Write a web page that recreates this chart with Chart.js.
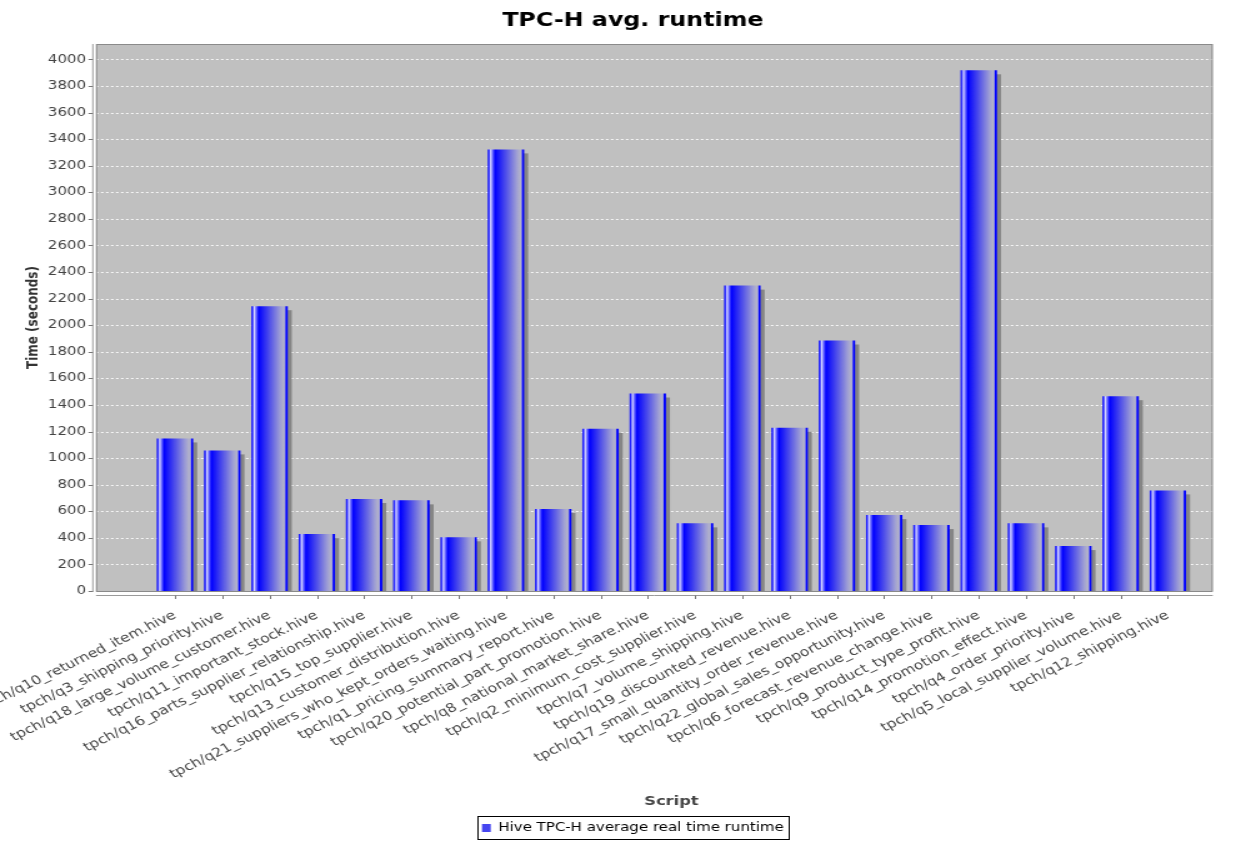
<!DOCTYPE html>
<html>
<head>
<meta charset="utf-8">
<title>TPC-H avg. runtime</title>
<script src="https://cdn.jsdelivr.net/npm/chart.js@4.4.1/dist/chart.umd.min.js"></script>
<style>
  html, body { margin: 0; padding: 0; background: #fff; }
  #chart { display: block; }
</style>
</head>
<body>
<canvas id="chart"></canvas>
<script>
// query scripts, in plotted order
const scripts = [
  'tpch/q10_returned_item.hive',
  'tpch/q3_shipping_priority.hive',
  'tpch/q18_large_volume_customer.hive',
  'tpch/q11_important_stock.hive',
  'tpch/q16_parts_supplier_relationship.hive',
  'tpch/q15_top_supplier.hive',
  'tpch/q13_customer_distribution.hive',
  'tpch/q21_suppliers_who_kept_orders_waiting.hive',
  'tpch/q1_pricing_summary_report.hive',
  'tpch/q20_potential_part_promotion.hive',
  'tpch/q8_national_market_share.hive',
  'tpch/q2_minimum_cost_supplier.hive',
  'tpch/q7_volume_shipping.hive',
  'tpch/q19_discounted_revenue.hive',
  'tpch/q17_small_quantity_order_revenue.hive',
  'tpch/q22_global_sales_opportunity.hive',
  'tpch/q6_forecast_revenue_change.hive',
  'tpch/q9_product_type_profit.hive',
  'tpch/q14_promotion_effect.hive',
  'tpch/q4_order_priority.hive',
  'tpch/q5_local_supplier_volume.hive',
  'tpch/q12_shipping.hive'
];

// average real time runtime, seconds
const runtimes = [1148, 1058, 2143, 428, 692, 682, 404, 3323, 617, 1220, 1486,
                  509, 2298, 1228, 1885, 571, 496, 3918, 509, 338, 1466, 757];

const seriesName = 'Hive TPC-H average real time runtime';
const timeTicks = [0, 200, 400, 600, 800, 1000, 1200, 1400, 1600, 1800, 2000,
                   2200, 2400, 2600, 2800, 3000, 3200, 3400, 3600, 3800, 4000];
const timeMax = 4116;

// the original picture is stretched sideways, so draw narrow and let css widen it
const STRETCH = 1.25;
const canvas = document.getElementById('chart');
canvas.width = Math.round(1241 / STRETCH);
canvas.height = 841;
canvas.style.width = '1241px';
canvas.style.height = '841px';

const FONT = 'DejaVu Sans';
const BAR_PCT = 0.77;
const PAD = { left: 59.4, right: 39.6, top: 0, bottom: -3 };

// gradient bar like the java bar painter
function barFill(context) {
  const chart = context.chart;
  const xs = chart.scales.x;
  if (!xs || context.dataIndex === undefined || !xs.width) return '#0000ff';
  const w = xs.width / scripts.length * BAR_PCT;
  const cx = xs.getPixelForValue(context.dataIndex);
  const g = chart.ctx.createLinearGradient(cx - w / 2, 0, cx + w / 2, 0);
  g.addColorStop(0.00, '#0000ff');
  g.addColorStop(0.04, '#3a3aff');
  g.addColorStop(0.08, '#dcdcff');
  g.addColorStop(0.12, '#8080ff');
  g.addColorStop(0.20, '#0000ff');
  g.addColorStop(0.80, '#a0a0d4');
  g.addColorStop(0.90, '#b4b4c8');
  g.addColorStop(0.93, '#9090e0');
  g.addColorStop(0.95, '#0000ff');
  g.addColorStop(1.00, '#0000ff');
  return g;
}

// grey plot, dashed grid, axis lines, bar shadows, legend frame
const plotFrame = {
  id: 'plotFrame',
  beforeDraw(chart) {
    const { ctx, chartArea: ca, scales: { x, y } } = chart;
    const left = ca.left - 44.3, right = ca.right + 17;
    ctx.save();
    ctx.fillStyle = '#c0c0c0';
    ctx.fillRect(left, ca.top, right - left, ca.bottom - ca.top);

    ctx.strokeStyle = 'rgba(255,255,255,0.9)';
    ctx.lineWidth = 1;
    ctx.setLineDash([2, 2]);
    y.ticks.forEach(t => {
      if (t.value === 0) return;
      const py = Math.round(y.getPixelForValue(t.value)) + 0.5;
      ctx.beginPath();
      ctx.moveTo(left, py);
      ctx.lineTo(right, py);
      ctx.stroke();
    });
    ctx.setLineDash([]);

    ctx.strokeStyle = '#8a8a8a';
    ctx.strokeRect(left + 0.5, ca.top + 0.5, right - left - 1, ca.bottom - ca.top);

    // value axis
    ctx.strokeStyle = '#9a9a9a';
    ctx.beginPath();
    ctx.moveTo(left - 2.5, ca.top);
    ctx.lineTo(left - 2.5, ca.bottom + 1);
    ctx.stroke();
    ctx.strokeStyle = '#777';
    y.ticks.forEach(t => {
      const py = Math.round(y.getPixelForValue(t.value)) + 0.5;
      ctx.beginPath();
      ctx.moveTo(left - 6, py);
      ctx.lineTo(left - 2.5, py);
      ctx.stroke();
    });

    // category axis
    ctx.strokeStyle = '#9a9a9a';
    ctx.beginPath();
    ctx.moveTo(left, ca.bottom + 4.5);
    ctx.lineTo(right, ca.bottom + 4.5);
    ctx.stroke();
    ctx.strokeStyle = '#777';
    scripts.forEach((s, i) => {
      const px = Math.round(x.getPixelForValue(i)) + 0.5;
      ctx.beginPath();
      ctx.moveTo(px, ca.bottom + 4.5);
      ctx.lineTo(px, ca.bottom + 8);
      ctx.stroke();
    });
    ctx.restore();
  },
  beforeDatasetsDraw(chart) {
    const { ctx, chartArea: ca } = chart;
    ctx.save();
    ctx.fillStyle = '#858585';
    chart.getDatasetMeta(0).data.forEach(bar => {
      const top = bar.y + 4;
      if (bar.base - top <= 0) return;
      ctx.fillRect(bar.x - bar.width / 2 + 3.2, top, bar.width, Math.min(bar.base, ca.bottom) - top);
    });
    ctx.restore();
  },
  afterDraw(chart) {
    const box = chart.legend && chart.legend.legendHitBoxes[0];
    if (!box) return;
    const ctx = chart.ctx;
    ctx.save();
    ctx.strokeStyle = '#000';
    ctx.lineWidth = 1;
    ctx.strokeRect(Math.round(box.left - 3.5) + 0.5, Math.round(box.top - 6) + 0.5,
                   Math.round(box.width + 7.5), Math.round(box.height + 11));
    ctx.restore();
  }
};

new Chart(canvas, {
  type: 'bar',
  data: {
    labels: scripts,
    datasets: [{
      label: seriesName,
      data: runtimes,
      backgroundColor: barFill,
      borderWidth: 0,
      barPercentage: BAR_PCT,
      categoryPercentage: 1
    }]
  },
  options: {
    responsive: false,
    animation: false,
    devicePixelRatio: 1,
    layout: { padding: PAD },
    plugins: {
      title: {
        display: true,
        text: 'TPC-H avg. runtime',
        color: '#000',
        font: { family: FONT, size: 19, weight: 'bold' },
        padding: { top: 9.6, bottom: 11.6 }
      },
      legend: {
        position: 'bottom',
        labels: {
          color: '#222',
          font: { family: FONT, size: 12 },
          boxWidth: 7,
          boxHeight: 8,
          padding: 8,
          generateLabels: () => [{
            text: seriesName,
            fillStyle: '#4646f0',
            strokeStyle: '#4646f0',
            lineWidth: 0,
            hidden: false,
            datasetIndex: 0
          }]
        },
        onClick: null
      },
      tooltip: { enabled: false }
    },
    scales: {
      x: {
        type: 'category',
        offset: true,
        grid: { display: false, drawTicks: false },
        border: { display: false },
        ticks: {
          autoSkip: false,
          minRotation: 31,
          maxRotation: 31,
          padding: 17,
          color: '#444',
          font: { family: FONT, size: 12.5 }
        },
        title: {
          display: true,
          text: 'Script',
          color: '#444',
          font: { family: FONT, size: 13, weight: 'bold' },
          padding: { top: 0, bottom: 5 }
        },
        afterFit(scale) {
          scale.paddingLeft = 0;
          scale.paddingRight = 0;
          scale.height = scale.chart.height - 591 - PAD.bottom - scale.chart.legend.height;
        }
      },
      y: {
        min: 0,
        max: timeMax,
        grid: { display: false, drawTicks: false },
        border: { display: false },
        afterBuildTicks(scale) {
          scale.ticks = timeTicks.map(v => ({ value: v }));
        },
        ticks: {
          includeBounds: false,
          padding: 52.3,
          color: '#444',
          font: { family: FONT, size: 12 },
          callback: v => String(v)
        },
        title: {
          display: true,
          text: 'Time (seconds)',
          color: '#333',
          font: { family: FONT, size: 12, weight: 'bold' },
          padding: { top: -40.2, bottom: 0 }
        },
        afterFit(scale) {
          scale.paddingTop = 0;
          scale.paddingBottom = 0;
          scale.width = 61.7;
          // labels sit left of this narrow box; don't clip them to it
          scale._computeLabelArea = () => undefined;
        }
      }
    }
  },
  plugins: [plotFrame]
});
</script>
</body>
</html>
